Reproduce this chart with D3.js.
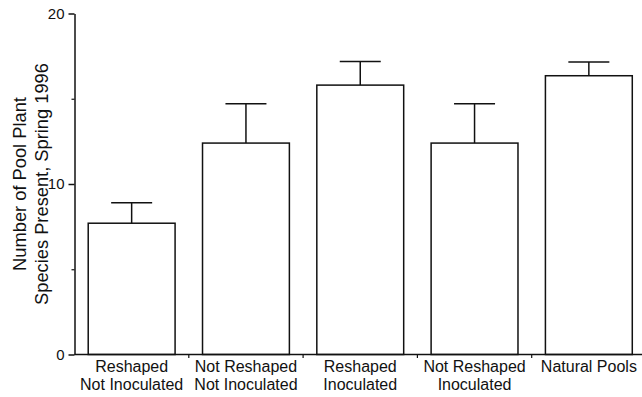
<!DOCTYPE html>
<html>
<head>
<meta charset="utf-8">
<script src="https://cdn.jsdelivr.net/npm/d3@7"></script>
<style>
  html, body { margin: 0; padding: 0; background: #fff; }
  svg { display: block; font-family: "Liberation Sans", Arial, sans-serif; }
</style>
</head>
<body>
<svg id="chart" width="642" height="397"></svg>
<script>
// Pool plant species richness by treatment (mean + standard error)
const categories = [
  ["Reshaped", "Not Inoculated"],
  ["Not Reshaped", "Not Inoculated"],
  ["Reshaped", "Inoculated"],
  ["Not Reshaped", "Inoculated"],
  ["Natural Pools"]
];
const means = [7.7, 12.4, 15.8, 12.4, 16.35];
const errors = [1.2, 2.3, 1.38, 2.3, 0.8];
const majorTicks = [0, 10, 20];
const minorTicks = [5, 15];
const titleLines = ["Number of Pool Plant", "Species Present, Spring 1996"];

const svg = d3.select("#chart");
const ink = "#111";

const x = d3.scaleBand()
  .domain(d3.range(categories.length))
  .range([74.5, 646])
  .paddingInner(0.24)
  .paddingOuter(0.12);

const y = d3.scaleLinear().domain([0, 20]).range([354.5, 13.5]);

// Bars
svg.append("g").selectAll("rect")
  .data(means)
  .join("rect")
  .attr("x", (d, i) => x(i))
  .attr("y", d => y(d))
  .attr("width", x.bandwidth())
  .attr("height", d => y(0) - y(d))
  .attr("fill", "#fff")
  .attr("stroke", ink)
  .attr("stroke-width", 1.5);

// Error bars (upper only)
const capHalf = 20.5;
const eb = svg.append("g").attr("stroke", ink).attr("stroke-width", 1.5);
means.forEach((m, i) => {
  const cx = x(i) + x.bandwidth() / 2;
  eb.append("line")
    .attr("x1", cx).attr("x2", cx)
    .attr("y1", y(m)).attr("y2", y(m + errors[i]));
  eb.append("line")
    .attr("x1", cx - capHalf).attr("x2", cx + capHalf)
    .attr("y1", y(m + errors[i])).attr("y2", y(m + errors[i]));
});

// Y axis with labelled major ticks
const yAxis = svg.append("g")
  .attr("transform", `translate(${x.range()[0]},0)`)
  .call(d3.axisLeft(y).tickValues(majorTicks).tickSize(6).tickPadding(4).tickSizeOuter(0));
yAxis.select(".domain").attr("stroke", ink).attr("stroke-width", 1.5);
yAxis.selectAll(".tick line").attr("stroke", ink).attr("stroke-width", 1.5);
yAxis.selectAll(".tick text")
  .attr("fill", ink)
  .style("font-size", "15px")
  .style("font-family", "'Liberation Sans', Arial, sans-serif");

// Minor ticks
svg.append("g")
  .attr("transform", `translate(${x.range()[0]},0)`)
  .call(d3.axisLeft(y).tickValues(minorTicks).tickSize(3).tickFormat(""))
  .call(g => g.select(".domain").remove())
  .selectAll(".tick line").attr("stroke", ink).attr("stroke-width", 1.2);

// X axis baseline
svg.append("line")
  .attr("x1", x.range()[0]).attr("x2", x.range()[1])
  .attr("y1", y(0)).attr("y2", y(0))
  .attr("stroke", ink).attr("stroke-width", 1.5);

// Category boundary ticks
svg.append("g").selectAll("line")
  .data(d3.range(1, categories.length))
  .join("line")
  .attr("x1", i => x.range()[0] + i * x.step())
  .attr("x2", i => x.range()[0] + i * x.step())
  .attr("y1", y(0)).attr("y2", y(0) + 3.5)
  .attr("stroke", ink).attr("stroke-width", 1.2);

// Category labels
const lab = svg.append("g").selectAll("text")
  .data(categories)
  .join("text")
  .attr("text-anchor", "middle")
  .attr("fill", ink)
  .style("font-size", "16px")
  .attr("transform", (d, i) => `translate(${x(i) + x.bandwidth() / 2},0)`);
lab.selectAll("tspan")
  .data(d => d)
  .join("tspan")
  .attr("x", 0)
  .attr("y", (d, j) => 371.5 + j * 18)
  .text(d => d);

// Y axis title
const title = svg.append("text")
  .attr("transform", "translate(0,184) rotate(-90)")
  .attr("text-anchor", "middle")
  .attr("fill", ink)
  .style("font-size", "18.3px");
title.selectAll("tspan")
  .data(titleLines)
  .join("tspan")
  .attr("x", 0)
  .attr("y", (d, j) => 26 + j * 22)
  .text(d => d);
</script>
</body>
</html>
